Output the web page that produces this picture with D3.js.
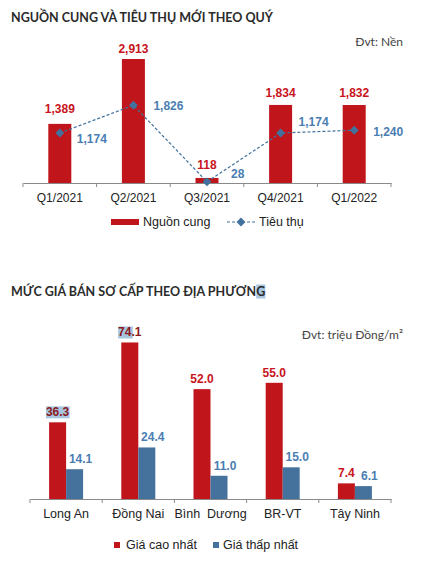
<!DOCTYPE html>
<html>
<head>
<meta charset="utf-8">
<script src="https://cdn.jsdelivr.net/npm/d3@7"></script>
<style>
  body { margin: 0; background: #fff; }
  svg { display: block; }
  .title { font-family: Lato, sans-serif; font-weight: bold; font-size: 12.5px; fill: #2b2b2b; }
  .unit { font-family: Lato, sans-serif; font-size: 12px; fill: #444; }
  .cat { font-family: "Liberation Sans", Arial, sans-serif; font-size: 12px; fill: #222; white-space: pre; }
  .cat2 { font-size: 12.5px; }
  .lbl { font-family: "Liberation Sans", Arial, sans-serif; font-size: 12px; font-weight: bold; }
  .leg { font-family: "Liberation Sans", Arial, sans-serif; font-size: 12.5px; fill: #222; }
</style>
</head>
<body>
<svg width="422" height="564"></svg>
<script>
// chart 1: supply and absorption by quarter
const quarters = ["Q1/2021", "Q2/2021", "Q3/2021", "Q4/2021", "Q1/2022"];
const supply = [1389, 2913, 118, 1834, 1832];
const absorption = [1174, 1826, 28, 1174, 1240];

// chart 2: primary price by province
const provinces = ["Long An", "Đồng Nai", "Bình  Dương", "BR-VT", "Tây Ninh"];
const priceHigh = [36.3, 74.1, 52.0, 55.0, 7.4];
const priceLow = [14.1, 24.4, 11.0, 15.0, 6.1];

const red = "#c0161b", redText = "#c8141c";
const blue = "#44729d", blueText = "#4a7eb3";
const fmt = d3.format(",");

const svg = d3.select("svg");

// ---------- chart 1 ----------
svg.append("text").attr("class", "title").attr("x", 11).attr("y", 21.5)
  .text("NGUỒN CUNG VÀ TIÊU THỤ MỚI THEO QUÝ");
svg.append("text").attr("class", "unit").attr("x", 403).attr("y", 46)
  .attr("text-anchor", "end").text("Đvt: Nền");

const x1 = d3.scaleBand().domain(quarters).range([23, 391]);
const y1 = d3.scaleLinear().domain([0, 3000]).range([183, 55.3]);
const c1 = q => x1(q) + x1.bandwidth() / 2;

const g1 = svg.append("g");
g1.selectAll("rect.sup").data(supply).enter().append("rect")
  .attr("class", "sup")
  .attr("x", (d, i) => c1(quarters[i]) - 11.5)
  .attr("y", d => y1(d))
  .attr("width", 23)
  .attr("height", d => y1(0) - y1(d))
  .attr("fill", red);

// axis
const ax1 = g1.append("g").attr("transform", `translate(0,${y1(0)})`)
  .call(d3.axisBottom(x1).tickSize(0).tickPadding(10));
ax1.select(".domain").attr("stroke", "#8a8a8a");
ax1.selectAll("text").attr("class", "cat").attr("font-size", null).attr("font-family", null);
ax1.selectAll(".tick-b").data(d3.range(quarters.length + 1)).enter().append("line")
  .attr("x1", i => x1.range()[0] + i * x1.bandwidth())
  .attr("x2", i => x1.range()[0] + i * x1.bandwidth())
  .attr("y1", 0).attr("y2", 4).attr("stroke", "#8a8a8a");

// line
const line1 = d3.line().x((d, i) => c1(quarters[i])).y(d => y1(d));
g1.append("path").datum(absorption)
  .attr("d", line1).attr("fill", "none")
  .attr("stroke", "#41719c").attr("stroke-width", 1.2).attr("stroke-dasharray", "3,2");
const diamond = d3.symbol().type(d3.symbolDiamond2).size(50);
g1.selectAll("path.dia").data(absorption).enter().append("path")
  .attr("class", "dia")
  .attr("d", diamond)
  .attr("transform", (d, i) => `translate(${c1(quarters[i])},${y1(d)})`)
  .attr("fill", "#41719c");

// labels
const supDy = [-11, -6.5, -9, -8, -8];
g1.selectAll("text.sl").data(supply).enter().append("text")
  .attr("class", "lbl").attr("fill", redText).attr("text-anchor", "middle")
  .attr("x", (d, i) => c1(quarters[i]))
  .attr("y", (d, i) => y1(d) + supDy[i])
  .text(d => fmt(d));
const absDx = [17, 20, 24, 18, 19];
const absDy = [9.5, 5, -3.5, -7.5, 5.5];
g1.selectAll("text.al").data(absorption).enter().append("text")
  .attr("class", "lbl").attr("fill", blueText)
  .attr("x", (d, i) => c1(quarters[i]) + absDx[i])
  .attr("y", (d, i) => y1(d) + absDy[i])
  .text(d => fmt(d));

// legend 1
const l1 = svg.append("g").attr("transform", "translate(0,222)");
l1.append("rect").attr("x", 111).attr("y", -3).attr("width", 28).attr("height", 6).attr("fill", red);
l1.append("text").attr("class", "leg").attr("x", 143).attr("y", 4.3).text("Nguồn cung");
l1.append("line").attr("x1", 227).attr("x2", 256).attr("y1", 0).attr("y2", 0)
  .attr("stroke", "#41719c").attr("stroke-width", 1.2).attr("stroke-dasharray", "3,2");
l1.append("path").attr("d", diamond).attr("transform", "translate(241,0)").attr("fill", "#41719c");
l1.append("text").attr("class", "leg").attr("x", 259).attr("y", 4.3).text("Tiêu thụ");

// ---------- chart 2 ----------
const t2 = svg.append("text").attr("class", "title").attr("x", 11).attr("y", 295.5);
t2.append("tspan").text("MỨC GIÁ BÁN SƠ CẤP THEO ĐỊA PHƯƠN");
t2.append("tspan").attr("class", "hl").text("G");
svg.append("text").attr("class", "unit").attr("x", 403).attr("y", 339)
  .attr("text-anchor", "end").text("Đvt: triệu Đồng/m²");

const x2 = d3.scaleBand().domain(provinces).range([30, 391]);
const y2 = d3.scaleLinear().domain([0, 80]).range([499, 330]);
const c2 = p => x2(p) + x2.bandwidth() / 2;
const bw = 17;

const g2 = svg.append("g");
g2.selectAll("rect.hi").data(priceHigh).enter().append("rect")
  .attr("x", (d, i) => c2(provinces[i]) - bw)
  .attr("y", d => y2(d)).attr("width", bw)
  .attr("height", d => y2(0) - y2(d)).attr("fill", red);
g2.selectAll("rect.lo").data(priceLow).enter().append("rect")
  .attr("x", (d, i) => c2(provinces[i]))
  .attr("y", d => y2(d)).attr("width", bw)
  .attr("height", d => y2(0) - y2(d)).attr("fill", blue);

const ax2 = g2.append("g").attr("transform", `translate(0,${y2(0)})`)
  .call(d3.axisBottom(x2).tickSize(0).tickPadding(10));
ax2.select(".domain").attr("stroke", "#8a8a8a");
ax2.selectAll("text").attr("class", "cat cat2").attr("font-size", null).attr("font-family", null);
ax2.selectAll(".tick-b").data(d3.range(provinces.length + 1)).enter().append("line")
  .attr("x1", i => x2.range()[0] + i * x2.bandwidth())
  .attr("x2", i => x2.range()[0] + i * x2.bandwidth())
  .attr("y1", 0).attr("y2", 4).attr("stroke", "#8a8a8a");

// selection highlights behind some labels (as in the source image)
const hlLayer = g2.append("g");
const hiLabels = g2.selectAll("text.hl2").data(priceHigh).enter().append("text")
  .attr("class", "lbl").attr("fill", redText).attr("text-anchor", "middle")
  .attr("x", (d, i) => c2(provinces[i]) - bw / 2)
  .attr("y", d => y2(d) - 6)
  .text(d => d.toFixed(1));
g2.selectAll("text.lo2").data(priceLow).enter().append("text")
  .attr("class", "lbl").attr("fill", blueText).attr("text-anchor", "middle")
  .attr("x", (d, i) => c2(provinces[i]) + bw / 2 + 6)
  .attr("y", d => y2(d) - 6)
  .text(d => d.toFixed(1));

const hlFrac = [1, 0.62, 0, 0, 0];
hiLabels.each(function (d, i) {
  if (!hlFrac[i]) return;
  const b = this.getBBox();
  hlLayer.append("rect").attr("x", b.x).attr("y", b.y + 1)
    .attr("width", b.width * hlFrac[i]).attr("height", b.height - 2)
    .attr("fill", "#a8c6e0");
});
hiLabels.filter((d, i) => hlFrac[i]).attr("fill", "#8a1a20");

// highlight on the last title letter
const full = t2.node();
const n = full.getNumberOfChars();
const ext = full.getExtentOfChar(n - 1);
svg.insert("rect", "text").attr("x", ext.x).attr("y", ext.y + 1)
  .attr("width", ext.width).attr("height", ext.height - 1).attr("fill", "#a8c6e0");

// legend 2
const l2 = svg.append("g").attr("transform", "translate(0,545)");
l2.append("rect").attr("x", 114).attr("y", -3).attr("width", 6).attr("height", 6).attr("fill", red);
l2.append("text").attr("class", "leg").attr("x", 126).attr("y", 4.3).text("Giá cao nhất");
l2.append("rect").attr("x", 213).attr("y", -3).attr("width", 6).attr("height", 6).attr("fill", blue);
l2.append("text").attr("class", "leg").attr("x", 223).attr("y", 4.3).text("Giá thấp nhất");
</script>
</body>
</html>
